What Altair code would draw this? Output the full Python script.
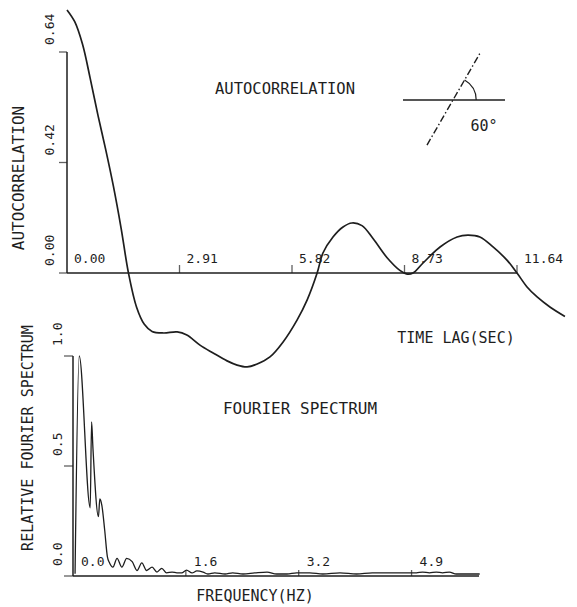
import math

import altair as alt
import pandas as pd

# Autocorrelation of the record against time lag (sec)
lag_sec = [0.0, 0.2, 0.4, 0.6, 0.8, 1.0, 1.2, 1.4, 1.59,
           1.8, 2.0, 2.2, 2.5, 2.85, 3.10, 3.44, 3.78, 4.14, 4.40, 4.66,
           4.92, 5.25, 5.59, 5.95, 6.21, 6.47, 6.62, 6.88, 7.14, 7.37, 7.63,
           7.92, 8.28, 8.61, 8.80, 8.95, 9.21, 9.65, 10.09, 10.37, 10.68, 11.02,
           11.38, 11.64, 11.90, 12.16, 12.50, 12.88]
autocorr = [1.00, 0.955, 0.87, 0.74, 0.60, 0.47, 0.33, 0.17, 0.0,
            -0.13, -0.195, -0.222, -0.228, -0.224, -0.236, -0.274, -0.304, -0.334, -0.350, -0.357,
            -0.346, -0.319, -0.262, -0.179, -0.103, 0.0, 0.076, 0.137, 0.175, 0.190, 0.180,
            0.130, 0.058, 0.010, -0.004, 0.0, 0.038, 0.099, 0.137, 0.144, 0.137, 0.099,
            0.049, 0.0, -0.053, -0.091, -0.13, -0.165]

# Relative Fourier amplitude spectrum against frequency (Hz)
freq_hz = [0.03, 0.09, 0.25, 0.27, 0.29, 0.37, 0.39, 0.42, 0.46, 0.50, 0.53,
           0.58, 0.64, 0.71, 0.78, 0.86, 0.93, 1.00, 1.07, 1.15, 1.22, 1.29,
           1.36, 1.44, 1.51, 1.58, 1.65, 1.73, 1.80, 1.89, 1.96, 2.06, 2.21,
           2.32, 2.47, 2.64, 2.82, 2.96, 3.11, 3.25, 3.44, 3.63, 3.88, 4.12,
           4.35, 4.60, 4.85, 4.99, 5.08, 5.18, 5.28, 5.37, 5.47, 5.57, 5.72, 5.91]
rel_spec = [0.01, 1.00, 0.31, 0.70, 0.58, 0.27, 0.35, 0.32, 0.21, 0.087, 0.06,
            0.04, 0.08, 0.04, 0.08, 0.065, 0.025, 0.06, 0.025, 0.04, 0.018, 0.035,
            0.014, 0.018, 0.014, 0.014, 0.027, 0.014, 0.023, 0.018, 0.009, 0.014, 0.009,
            0.014, 0.009, 0.014, 0.018, 0.009, 0.009, 0.014, 0.014, 0.009, 0.014, 0.009,
            0.014, 0.014, 0.014, 0.014, 0.018, 0.014, 0.018, 0.014, 0.018, 0.009, 0.009, 0.009]

assert len(lag_sec) == len(autocorr)
assert len(freq_hz) == len(rel_spec)

# Axis ticks and their printed labels
lag_ticks = [0.0, 2.91, 5.82, 8.73, 11.64]
lag_tick_labels = ["0.00", "2.91", "5.82", "8.73", "11.64"]
acf_ticks = [0.0, 0.42, 0.84]
acf_tick_labels = ["0.00", "0.42", "0.64"]
freq_ticks = [0.0, 1.64, 3.28, 4.92]
freq_tick_labels = ["0.0", "1.6", "3.2", "4.9"]
freq_max = 5.9
spec_ticks = [0.0, 0.5, 1.0]
spec_tick_labels = ["0.0", "0.5", "1.0"]

INK = "#1e1e1e"
FONT = "DejaVu Sans Mono"

# Each panel gets its own pixel frame on the page
lag_x = alt.Scale(domain=[lag_ticks[0], lag_ticks[-1]], range=[67, 517], nice=False, zero=False)
acf_y = alt.Scale(domain=[acf_ticks[0], acf_ticks[-1]], range=[273, 52], nice=False, zero=False)
freq_x = alt.Scale(domain=[0, freq_max], range=[73, 479], nice=False, zero=False)
spec_y = alt.Scale(domain=[spec_ticks[0], spec_ticks[-1]], range=[576, 356], nice=False, zero=False)


def panel(curve_df, xf, yf, xs, ys, x_ticks, x_labels, y_ticks, y_labels, x_end,
          curve_width, interp, y_label_dy, y_label_dx, x_label_dx, tick_len_x, tick_len_y):
    X = lambda f: alt.X(f, type="quantitative", scale=xs, axis=None)
    Y = lambda f: alt.Y(f, type="quantitative", scale=ys, axis=None)

    curve = alt.Chart(curve_df).mark_line(
        color=INK, strokeWidth=curve_width, interpolate=interp
    ).encode(x=X(xf), y=Y(yf))

    x_axis = alt.Chart(pd.DataFrame({"a": [x_ticks[0]], "b": [x_end], "v": [y_ticks[0]]})).mark_rule(
        color=INK, strokeWidth=1.5
    ).encode(x=X("a"), x2="b", y=Y("v"))
    y_axis = alt.Chart(pd.DataFrame({"a": [y_ticks[0]], "b": [y_ticks[-1]], "u": [x_ticks[0]]})).mark_rule(
        color=INK, strokeWidth=1.5
    ).encode(y=Y("a"), y2="b", x=X("u"))

    xt = pd.DataFrame({"p": x_ticks, "label": x_labels, "v": [y_ticks[0]] * len(x_ticks)})
    yt = pd.DataFrame({"p": y_ticks, "label": y_labels, "u": [x_ticks[0]] * len(y_ticks)})

    x_tick_marks = alt.Chart(xt.iloc[1:]).mark_tick(
        orient="vertical", size=tick_len_x, thickness=1.3, color=INK, yOffset=-tick_len_x / 2
    ).encode(x=X("p"), y=Y("v"))
    y_tick_marks = alt.Chart(yt).mark_tick(
        orient="horizontal", size=tick_len_y, thickness=1.3, color=INK, xOffset=-tick_len_y / 2
    ).encode(x=X("u"), y=Y("p"))

    x_text = alt.Chart(xt).mark_text(
        align="left", baseline="alphabetic", dx=x_label_dx, dy=-10, font=FONT, fontSize=13, color=INK
    ).encode(x=X("p"), y=Y("v"), text="label:N")
    y_text = alt.Chart(yt).mark_text(
        angle=270, align="left", baseline="middle", dx=y_label_dx, dy=y_label_dy,
        font=FONT, fontSize=13, color=INK
    ).encode(x=X("u"), y=Y("p"), text="label:N")

    return alt.layer(x_axis, y_axis, x_tick_marks, y_tick_marks, x_text, y_text, curve)


acf_df = pd.DataFrame({"lag": lag_sec, "acf": autocorr})
spec_df = pd.DataFrame({"freq": freq_hz, "amp": rel_spec})

top = panel(acf_df, "lag", "acf", lag_x, acf_y, lag_ticks, lag_tick_labels, acf_ticks,
            acf_tick_labels, lag_ticks[-1], 1.7, "catmull-rom", -17, 7, 7, 8, 8)
bottom = panel(spec_df, "freq", "amp", freq_x, spec_y, freq_ticks, freq_tick_labels, spec_ticks,
               spec_tick_labels, freq_max, 1.3, "monotone", -15, 10, 8, 6, 9)


def label(text, x, y, size=15.5, angle=0):
    return alt.Chart(pd.DataFrame({"t": [text]})).mark_text(
        font=FONT, fontSize=size, color=INK, align="center", baseline="middle", angle=angle
    ).encode(x=alt.value(x), y=alt.value(y), text="t:N")


titles = alt.layer(
    label("AUTOCORRELATION", 285, 89),
    label("TIME LAG(SEC)", 456, 338, 15),
    label("FOURIER SPECTRUM", 300, 409, 16),
    label("FREQUENCY(HZ)", 255, 596, 15),
    label("AUTOCORRELATION", 19, 178, 16, 270),
    label("RELATIVE FOURIER SPECTRUM", 28, 438, 15, 270),
    label("60°", 484, 126, 15),
)

# Inset sketch: reference line and a dash-dot line inclined at 60 degrees
incl_deg = 60
cx, cy = 453, 100
rad = math.radians(incl_deg)
one = pd.DataFrame({"k": [0]})
base_line = alt.Chart(one).mark_rule(color=INK, strokeWidth=1.4).encode(
    x=alt.value(cx - 50), x2=alt.value(cx + 52), y=alt.value(cy), y2=alt.value(cy)
)
incl_line = alt.Chart(one).mark_rule(color=INK, strokeWidth=1.4, strokeDash=[7, 2.5, 1.5, 2.5]).encode(
    x=alt.value(cx - 52 * math.cos(rad)), x2=alt.value(cx + 54 * math.cos(rad)),
    y=alt.value(cy + 52 * math.sin(rad)), y2=alt.value(cy - 54 * math.sin(rad)),
)
angle_arc = alt.Chart(one).mark_arc(
    theta=math.pi / 2 - rad, theta2=math.pi / 2, innerRadius=22.6, outerRadius=23.8, color=INK
).encode(x=alt.value(cx), y=alt.value(cy))

chart = alt.layer(
    top, bottom, titles, base_line, incl_line, angle_arc
).resolve_scale(
    x="independent", y="independent"
).properties(
    width=577, height=607, padding=0, autosize="none", background="white"
).configure_view(stroke=None)

chart.save("out.html", embed_options={"renderer": "svg", "actions": False})
